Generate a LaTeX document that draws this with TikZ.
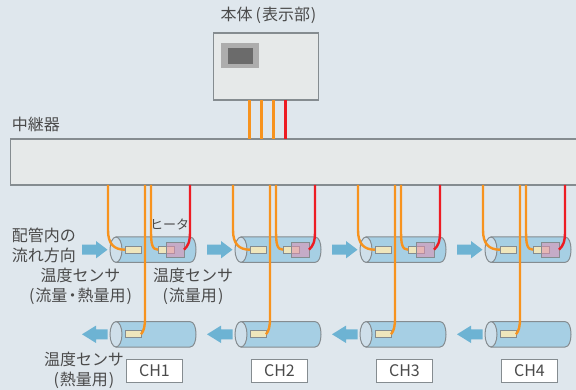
\documentclass[tikz,border=0pt]{standalone}
\usepackage{fontspec}
\setmainfont{Noto Sans CJK JP}
\usetikzlibrary{calc}
\definecolor{bgc}{HTML}{DFE7ED}
\definecolor{boxc}{HTML}{E6E9E9}
\definecolor{edgec}{HTML}{858C90}
\definecolor{wireo}{HTML}{F7931E}
\definecolor{wirer}{HTML}{ED1C24}
\definecolor{tubec}{HTML}{A6CFE4}
\definecolor{capc}{HTML}{CFDFEA}
\definecolor{sensc}{HTML}{EFE6BC}
\definecolor{arrc}{HTML}{6DB3D3}
\definecolor{txtc}{HTML}{4A4A4A}
\definecolor{heatc}{HTML}{E08FB0}
\tikzset{
  x=1pt,y=-1pt,
  every node/.style={inner sep=0pt,outer sep=0pt,text=txtc},
  panel/.style={draw=edgec,line width=1.2pt,fill=boxc,anchor=north west},
  sensorbox/.style={draw=edgec,line width=1pt,fill=sensc,minimum width=16pt,minimum height=7pt},
  heaterbox/.style={draw=edgec,line width=1pt,fill=heatc,fill opacity=.55,minimum width=18pt,minimum height=15pt},
  chbox/.style={draw=edgec,line width=.9pt,fill=white,minimum width=56pt,minimum height=22.5pt,font=\fontsize{16}{16}\selectfont},
  lbl/.style={font=\fontsize{16}{20}\selectfont,align=center},
  smalllbl/.style={font=\fontsize{13}{16}\selectfont},
  owire/.style={draw=wireo,line width=2.4pt},
  rwire/.style={draw=wirer,line width=2.4pt},
  tubeline/.style={draw=edgec,line width=1pt,fill=tubec},
  capline/.style={draw=edgec,line width=1pt,fill=capc},
  flowarrow/.style={fill=arrc,draw=none}
}
\newcommand{\tubeshape}[2]{%
  \path[tubeline] (#1+6,#2-12.7) -- (#1+80,#2-12.7) .. controls (#1+84,#2-12.7) and (#1+86,#2-7) .. (#1+86,#2) .. controls (#1+86,#2+7) and (#1+84,#2+12.7) .. (#1+80,#2+12.7) -- (#1+6,#2+12.7) -- cycle;
  \path[capline] (#1+6,#2) ellipse[x radius=6,y radius=12.7];
}
\begin{document}
\begin{tikzpicture}
\useasboundingbox (0,0) rectangle (576,390);
\fill[bgc] (0,0) rectangle (576,390);
% main wires
\node[panel,minimum width=105pt,minimum height=67pt] (body) at (213.5,33) {};
\node[panel,minimum width=580pt,minimum height=46pt] (relay) at (10.5,139) {};
\foreach \x/\c [count=\i] in {249.5/owire,261.5/owire,273.5/owire,285.5/rwire}{
  \coordinate (bt\i) at (\x,100);
  \coordinate (rt\i) at (\x,139);
  \path[\c] (bt\i) -- (rt\i);
}
\fill[black!32] (221,43) rectangle (259,68);
\fill[black!58] (228,48) rectangle (253,64);
\node[lbl] (bodylbl) at (268.5,15) {本体\kern3pt(\kern1pt表示部\kern1pt)};
\node[lbl,anchor=west] (relaylbl) at (12,124) {中継器};
\foreach \o/\n [count=\k] in {0/CH1,125/CH2,250/CH3,375/CH4}{
  \tubeshape{110+\o}{249.7}
  \tubeshape{110+\o}{334.3}
  \node[sensorbox] (sa\k) at (133+\o,249.7) {};
  \node[sensorbox] (sb\k) at (166+\o,249.7) {};
  \node[sensorbox] (sc\k) at (133+\o,334.3) {};
  \coordinate (ta\k) at (108+\o,185);
  \coordinate (tc\k) at (145+\o,185);
  \coordinate (tb\k) at (151+\o,185);
  \coordinate (tr\k) at (190+\o,185);
  \path[owire] (ta\k) -- (108+\o,230) .. controls (108+\o,244) and (114+\o,249.7) .. (sa\k.west);
  \path[owire] (tb\k) -- (151+\o,230) .. controls (151+\o,244) and (152+\o,249.7) .. (sb\k.west);
  \path[owire] (tc\k) -- (145+\o,318) .. controls (145+\o,326) and (144+\o,331) .. (sc\k.east);
  \node[heaterbox] (h\k) at (175+\o,249.7) {};
  \path[rwire] (tr\k) -- (190+\o,232) .. controls (190+\o,242) and (188+\o,246) .. (h\k.east);
  \path[flowarrow] (82+\o,244.7) -- (96+\o,244.7) -- (96+\o,241) -- (107.5+\o,249.7) -- (96+\o,258.4) -- (96+\o,254.7) -- (82+\o,254.7) -- cycle;
  \path[flowarrow] (107.5+\o,329.3) -- (96+\o,329.3) -- (96+\o,325.6) -- (82+\o,334.3) -- (96+\o,343) -- (96+\o,339.3) -- (107.5+\o,339.3) -- cycle;
  \node[chbox] (ch\k) at (154.5+\o,370.7) {\n};
}
\node[lbl,anchor=west,align=left] (flowlbl) at (12,245) {配管内の\\流れ方向};
\node[smalllbl] (heatlbl) at (169.5,224) {ヒータ};
\node[lbl] (s1lbl) at (80.5,286) {温度センサ\\(\kern1pt流量\kern-3pt・\kern-3pt熱量用\kern1pt)};
\node[lbl] (s2lbl) at (193,286) {温度センサ\\(\kern1pt流量用\kern1pt)};
\node[lbl] (s3lbl) at (84,370.5) {温度センサ\\(\kern1pt熱量用\kern1pt)};
\end{tikzpicture}
\end{document}
